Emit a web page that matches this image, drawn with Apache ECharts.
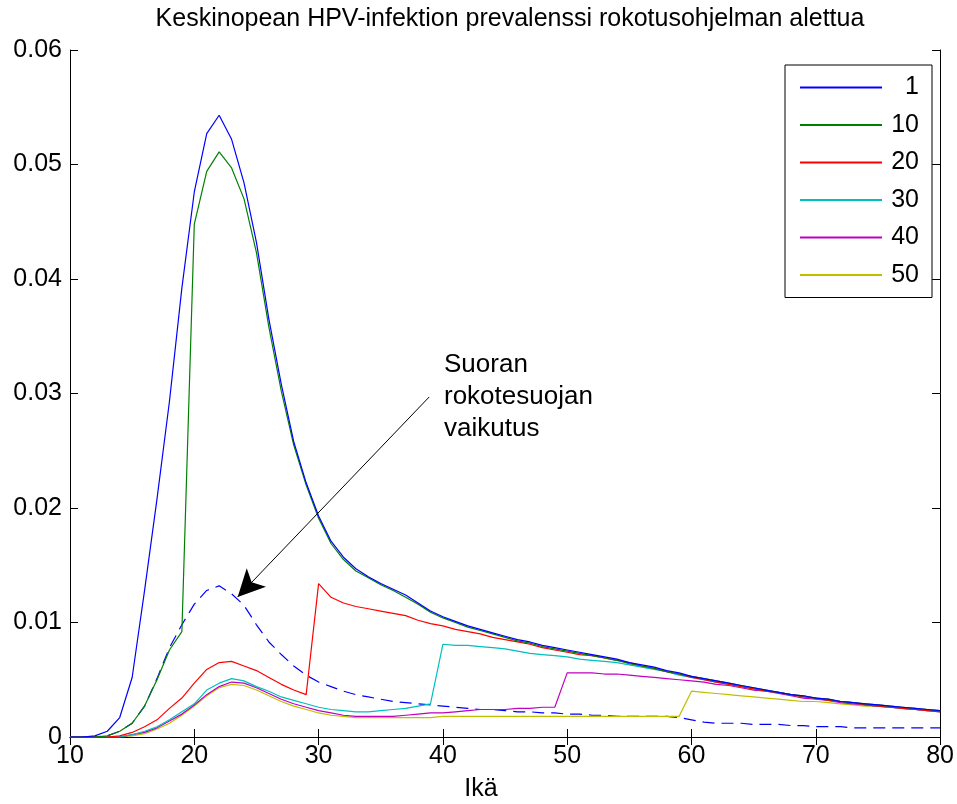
<!DOCTYPE html>
<html>
<head>
<meta charset="utf-8">
<script src="https://cdn.jsdelivr.net/npm/echarts@6/dist/echarts.min.js"></script>
<style>
html,body{margin:0;padding:0;background:#fff;}
#c{width:957px;height:804px;}
</style>
</head>
<body>
<div id="c"></div>
<script>
// Ages (x values)
const ages = [10,11,12,13,14,15,16,17,18,19,20,21,22,23,24,25,26,27,28,29,30,31,32,33,34,35,36,37,38,39,40,41,42,43,44,45,46,47,48,49,50,51,52,53,54,55,56,57,58,59,60,61,62,63,64,65,66,67,68,69,70,71,72,73,74,75,76,77,78,79,80];

// Series "1"
const s1 = [0,0,0.0001,0.0005,0.0017,0.0052,0.0128,0.0208,0.0293,0.0392,0.0476,0.0527,0.0543,0.0522,0.0484,0.0432,0.0365,0.0308,0.0258,0.0222,
0.0193,0.0171,0.0157,0.0147,0.0140,0.0134,0.0129,0.0124,0.0117,0.0110,0.0105,0.0101,0.0097,0.0094,0.0091,0.0088,0.0085,0.0083,0.0080,0.0078,
0.0076,0.0074,0.0072,0.0070,0.0068,0.0065,0.0063,0.0061,0.0058,0.0056,0.0053,0.0051,0.0049,0.0047,0.0045,0.0043,0.0041,0.0039,0.0037,0.0036,
0.0034,0.0033,0.0031,0.0030,0.0029,0.0028,0.0027,0.0026,0.0025,0.0024,0.0023];

// Series "10"
const s10 = [0,0,0,0.0001,0.0005,0.0012,0.0027,0.0050,0.0076,0.0092,0.0448,0.0494,0.0511,0.0497,0.0470,0.0423,0.0358,0.0302,0.0255,0.0220,
0.0191,0.0169,0.0155,0.0145,0.0139,0.0133,0.0128,0.0122,0.0116,0.0109,0.0104,0.0100,0.0096,0.0093,0.0090,0.0087,0.0084,0.0082,0.0079,0.0077,
0.0075,0.0073,0.0071,0.0069,0.0067,0.0064,0.0062,0.0060,0.0057,0.0055,0.0053,0.0051,0.0049,0.0047,0.0045,0.0043,0.0041,0.0039,0.0037,0.0036,
0.0034,0.0033,0.0031,0.0030,0.0029,0.0028,0.0027,0.0026,0.0025,0.0024,0.0023];

// Series "20"
const s20 = [0,0,0,0,0.0001,0.0004,0.0009,0.0015,0.0025,0.0034,0.0047,0.0059,0.0065,0.0066,0.0062,0.0058,0.0052,0.0046,0.0041,0.0037,
0.0134,0.0122,0.0117,0.0114,0.0112,0.0110,0.0108,0.0106,0.0102,0.0099,0.0097,0.0094,0.0092,0.0090,0.0087,0.0085,0.0083,0.0081,0.0078,0.0076,
0.0074,0.0072,0.0071,0.0069,0.0067,0.0065,0.0062,0.0060,0.0057,0.0055,0.0052,0.0050,0.0048,0.0046,0.0044,0.0042,0.0040,0.0039,0.0037,0.0035,
0.0034,0.0032,0.0031,0.0030,0.0028,0.0027,0.0026,0.0025,0.0024,0.0023,0.0022];

// Series "30"
const s30 = [0,0,0,0,0,0.0002,0.0005,0.0009,0.0015,0.0022,0.0029,0.0041,0.0047,0.0051,0.0049,0.0044,0.0040,0.0035,0.0032,0.0029,
0.0026,0.0024,0.0023,0.0022,0.0022,0.0023,0.0024,0.0025,0.0027,0.0029,0.0081,0.0080,0.0080,0.0079,0.0078,0.0077,0.0075,0.0073,0.0072,0.0071,
0.0070,0.0068,0.0067,0.0066,0.0065,0.0063,0.0061,0.0059,0.0057,0.0054,0.0052,0.0050,0.0048,0.0046,0.0044,0.0042,0.0040,0.0039,0.0037,0.0035,
0.0034,0.0032,0.0031,0.0030,0.0028,0.0027,0.0026,0.0025,0.0024,0.0023,0.0022];

// Series "40"
const s40 = [0,0,0,0,0,0.0002,0.0004,0.0008,0.0014,0.0020,0.0028,0.0037,0.0044,0.0048,0.0047,0.0043,0.0038,0.0033,0.0029,0.0026,
0.0023,0.0021,0.0019,0.0018,0.0018,0.0018,0.0018,0.0019,0.0020,0.0021,0.0021,0.0022,0.0023,0.0024,0.0024,0.0024,0.0025,0.0025,0.0026,0.0026,
0.0056,0.0056,0.0056,0.0055,0.0055,0.0054,0.0053,0.0052,0.0051,0.0050,0.0049,0.0048,0.0046,0.0045,0.0043,0.0041,0.0040,0.0038,0.0036,0.0034,
0.0033,0.0032,0.0030,0.0029,0.0028,0.0027,0.0026,0.0025,0.0024,0.0023,0.0023];

// Series "50"
const s50 = [0,0,0,0,0,0.0001,0.0003,0.0007,0.0012,0.0019,0.0027,0.0036,0.0043,0.0046,0.0045,0.0041,0.0036,0.0031,0.0027,0.0024,
0.0021,0.0019,0.0018,0.0017,0.0017,0.0017,0.0017,0.0017,0.0017,0.0017,0.0018,0.0018,0.0018,0.0018,0.0018,0.0018,0.0018,0.0018,0.0018,0.0018,
0.0018,0.0018,0.0018,0.0018,0.0018,0.0018,0.0018,0.0018,0.0018,0.0018,0.0040,0.0039,0.0038,0.0037,0.0036,0.0035,0.0034,0.0033,0.0032,0.0031,
0.0031,0.0030,0.0029,0.0028,0.0027,0.0027,0.0026,0.0025,0.0024,0.0023,0.0023];

// Dashed: direct vaccine protection only
const sDirect = [0,0,0,0.0001,0.0005,0.0012,0.0027,0.0051,0.0078,0.0098,0.0116,0.0128,0.0132,0.0125,0.0115,0.0098,0.0083,0.0072,0.0062,0.0054,
0.0048,0.0044,0.0040,0.0037,0.0035,0.0033,0.0031,0.0030,0.0029,0.0028,0.0027,0.0026,0.0025,0.0024,0.0024,0.0023,0.0022,0.0022,0.0021,0.0021,
0.0020,0.0020,0.0019,0.0019,0.0018,0.0018,0.0018,0.0018,0.0018,0.0017,0.0015,0.0013,0.0012,0.0012,0.0012,0.0011,0.0011,0.0011,0.0010,0.0010,
0.0009,0.0009,0.0009,0.0008,0.0008,0.0008,0.0008,0.0008,0.0008,0.0008,0.0008];

const seriesNames = ['1','10','20','30','40','50'];
const seriesColors = ['#0000ff','#008000','#ff0000','#00bfbf','#bf00bf','#bfbf00'];
const seriesValues = [s1, s10, s20, s30, s40, s50];

const yTickLabels = ['0','0.01','0.02','0.03','0.04','0.05','0.06'];

const titleText = 'Keskinopean HPV-infektion prevalenssi rokotusohjelman alettua';
const xLabel = 'Ikä';
const annotationText = 'Suoran\nrokotesuojan\nvaikutus';
const arrowFrom = [38.9, 0.0297];
const arrowTo = [23.49, 0.01223];

const FONT = 'Liberation Sans, Arial, sans-serif';
const pairs = arr => ages.map((a, i) => [a, arr[i]]);

const chart = echarts.init(document.getElementById('c'), null, {renderer: 'canvas'});

const series = [];
series.push({
  name: 'direct', type: 'line', data: pairs(sDirect), symbol: 'none', showSymbol: false,
  lineStyle: {color: '#0000ff', width: 1.2, type: [12, 7]}, itemStyle: {color: '#0000ff'},
  silent: true, z: 2,
  markLine: {
    silent: true, symbol: ['none', 'arrow'], symbolSize: [20, 27],
    lineStyle: {color: '#000', width: 1, type: 'solid'},
    itemStyle: {color: '#000'},
    label: {show: false}, emphasis: {disabled: true},
    data: [[{coord: arrowFrom}, {coord: arrowTo}]]
  }
});
for (let k = seriesNames.length - 1; k >= 0; k--) {
  series.push({
    name: seriesNames[k], type: 'line', data: pairs(seriesValues[k]), symbol: 'none', showSymbol: false,
    lineStyle: {color: seriesColors[k], width: 1.2}, itemStyle: {color: seriesColors[k]},
    silent: true, z: 3
  });
}

const axisCommon = {
  axisLine: {show: true, lineStyle: {color: '#000', width: 1}},
  axisTick: {show: true, inside: true, length: 8, lineStyle: {color: '#000', width: 1}},
  splitLine: {show: false}
};

chart.setOption({
  animation: false,
  backgroundColor: '#fff',
  grid: {left: 70, right: 15, top: 50, bottom: 67, containLabel: false},
  xAxis: [
    Object.assign({type: 'value', min: 10, max: 80, interval: 10, position: 'bottom',
      axisLabel: {show: true, color: '#000', fontFamily: FONT, fontSize: 25, margin: 7}}, axisCommon),
    Object.assign({type: 'value', min: 10, max: 80, interval: 10, position: 'top',
      axisLabel: {show: false}}, axisCommon)
  ],
  yAxis: [
    Object.assign({type: 'value', min: 0, max: 0.06, interval: 0.01, position: 'left',
      axisLabel: {show: true, color: '#000', fontFamily: FONT, fontSize: 25, margin: 8,
        formatter: v => yTickLabels[Math.round(v / 0.01)]}}, axisCommon),
    Object.assign({type: 'value', min: 0, max: 0.06, interval: 0.01, position: 'right',
      axisLabel: {show: false}}, axisCommon)
  ],
  legend: {
    data: seriesNames,
    orient: 'vertical',
    left: 785, top: 65,
    padding: [10, 13, 10, 15],
    icon: 'rect',
    itemWidth: 82, itemHeight: 2, itemGap: 12.5, itemTextGap: 3,
    borderColor: '#000', borderWidth: 1, backgroundColor: '#fff',
    selectedMode: false,
    formatter: '{a|{name}}',
    textStyle: {
      color: '#000', fontFamily: FONT, fontSize: 25,
      rich: {a: {width: 32, align: 'right', fontSize: 25, lineHeight: 25, fontFamily: FONT, color: '#000'}}
    }
  },
  graphic: [
    {type: 'text', x: 510, y: 19, style: {text: titleText, font: '25px ' + FONT, fill: '#000', textAlign: 'center', textVerticalAlign: 'middle'}},
    {type: 'text', x: 481, y: 789, style: {text: xLabel, font: '25px ' + FONT, fill: '#000', textAlign: 'center', textVerticalAlign: 'middle'}},
    {type: 'text', x: 444, y: 349, style: {text: annotationText, font: '26px ' + FONT, lineHeight: 32, fill: '#000', textAlign: 'left', textVerticalAlign: 'top'}}
  ],
  series: series
});
</script>
</body>
</html>
